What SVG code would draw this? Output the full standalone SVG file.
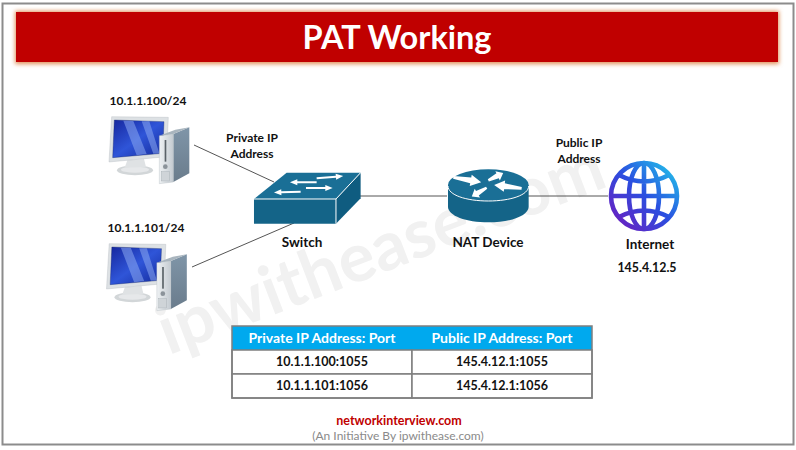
<svg xmlns="http://www.w3.org/2000/svg" width="796" height="450" viewBox="0 0 796 450">
<style>
text{font-family:Lato,"Liberation Sans",sans-serif;font-weight:700;text-anchor:middle;fill:#111}
.lbl{font-size:12px}
.th{font-size:14px;fill:#fff}
.td{font-size:12.5px}
.conn{stroke:#555;stroke-width:1;fill:none}
.cell{fill:#fff;stroke:#7f7f7f;stroke-width:1.5}
.globe{fill:none;stroke:url(#gl);stroke-width:4.6}
</style>
<defs>
<linearGradient id="gl" gradientUnits="userSpaceOnUse" x1="615" y1="225" x2="675" y2="165"><stop offset="0" stop-color="#6a1fc0"/><stop offset=".5" stop-color="#2a4fe0"/><stop offset="1" stop-color="#22c4ea"/></linearGradient>
<linearGradient id="scr" x1="0" y1="0" x2="1" y2="1"><stop offset="0" stop-color="#16279e"/><stop offset=".5" stop-color="#2f55d8"/><stop offset="1" stop-color="#142a9a"/></linearGradient>
<linearGradient id="tw" x1="0" y1="0" x2="1" y2="0"><stop offset="0" stop-color="#eef1f3"/><stop offset="1" stop-color="#c4cbd1"/></linearGradient>
<linearGradient id="twside" x1="0" y1="0" x2="0" y2="1"><stop offset="0" stop-color="#7f95a8"/><stop offset="1" stop-color="#6a7c8c"/></linearGradient>
<filter id="glow" x="-3%" y="-25%" width="106%" height="150%"><feGaussianBlur stdDeviation="2.2"/></filter>
<g id="pc">
<ellipse cx="135" cy="256" rx="54" ry="15" fill="#d2d6d8"/>
<ellipse cx="135" cy="254" rx="42" ry="9" fill="#e6e8ea"/>
<path d="M112 226L162 222L168 246L104 248Z" fill="#dfe2e4"/>
<path d="M65 95L235 97L230 215L57 231Z" fill="#dde1e4" stroke="#aeb4ba"/>
<path d="M73 105L222 110L218 205L68 218Z" fill="url(#scr)" stroke="#10205f"/>
<path d="M100 107L130 108L170 207L140 211Z M155 109L178 109L208 205L190 206Z" fill="#8aa8f0" opacity=".55"/>
<path d="M250 147L298 127V265L250 291Z" fill="url(#twside)"/>
<path d="M208 152L250 147V291L208 296Z" fill="url(#tw)" stroke="#aab2b8"/>
<path d="M208 152L256 134L298 127L250 147Z" fill="#a9b5be"/>
<rect x="224" y="165" width="5" height="65" fill="#5a6268"/>
<circle cx="226" cy="245" r="7" fill="#8b939a"/>
<rect x="214" y="260" width="24" height="28" fill="#cfd4d8" stroke="#9aa2a8"/>
</g>
<path id="ar" d="M0 -3H58V-9L80 0L58 9V3H0Z" fill="#fff"/>
<path id="arw" d="M0 -4L50 -9V-17L80 0L50 17V9L0 4Z" fill="#fff"/>
</defs>
<rect width="796" height="450" fill="#fff"/>
<rect x="2.5" y="3.5" width="791" height="441" fill="none" stroke="#8c8c8c" stroke-width="2"/>
<text x="381" y="272" transform="rotate(-21 381 250)" style="font-size:68px;fill:#f1f1f1">ipwithease.com</text>
<rect x="15" y="11" width="764" height="53" fill="#e0905a" filter="url(#glow)"/>
<rect id="banner" x="16" y="12" width="762" height="50" fill="#c00000"/>
<text x="397" y="49" style="font-size:32.5px;fill:#fff">PAT Working</text>
<g id="connectors">
<path class="conn" d="M194 145L274 182"/>
<path class="conn" d="M192 267L294 223"/>
<path class="conn" d="M353 196H447"/>
<path class="conn" d="M528 196H608"/>
</g>
<g id="pc1"><use href="#pc" transform="translate(90,85) scale(.3333)"/><text class="lbl" x="148" y="105">10.1.1.100/24</text></g>
<g id="pc2"><use href="#pc" transform="translate(87.5,212) scale(.3333)"/><text class="lbl" x="146" y="232">10.1.1.101/24</text></g>
<g id="private-label"><text class="lbl" x="252" y="142">Private IP</text><text class="lbl" x="252" y="158">Address</text></g>
<g id="switch">
<g transform="translate(90,85) scale(.3333)">
<path d="M492 342L590 263H812L738 342Z" fill="#1a6f96"/>
<path d="M492 342H738V416H492Z" fill="#146488"/>
<path d="M738 342L812 263V340L738 416Z" fill="#0f5c80"/>
<path d="M492 342H738L812 263M738 342V416" fill="none" stroke="#fff" stroke-width="3"/>
<use href="#ar" transform="translate(680,280) rotate(-5)"/>
<use href="#ar" transform="translate(680,292) rotate(180)"/>
<use href="#ar" transform="translate(648,309)"/>
<use href="#ar" transform="translate(632,320) rotate(178)"/>
</g>
<text class="lbl" x="302" y="247" style="font-size:13.5px">Switch</text>
</g>
<g id="router">
<g transform="translate(430,125) scale(.3333)">
<path d="M54 180V245C54 272 108 292 175 292S296 272 296 245V180Z" fill="#146488"/>
<ellipse cx="175" cy="180" rx="121" ry="47" fill="#1a6f96"/>
<path d="M54 183C54 210 108 228 175 228S296 210 296 183" fill="none" stroke="#fff" stroke-width="3"/>
<use href="#arw" transform="translate(70,157) rotate(10) scale(1.06,1)"/>
<use href="#arw" transform="translate(175,166) rotate(-26) scale(.62,.9)"/>
<use href="#arw" transform="translate(275,190) rotate(187) scale(1.04,1)"/>
<use href="#arw" transform="translate(170,188) rotate(149) scale(.65,.9)"/>
</g>
<text class="lbl" x="488" y="247" style="font-size:13.5px">NAT Device</text>
</g>
<g id="public-label"><text class="lbl" x="579" y="147">Public IP</text><text class="lbl" x="579" y="163">Address</text></g>
<g id="internet">
<circle class="globe" cx="644" cy="196" r="33"/>
<ellipse class="globe" cx="644" cy="196" rx="15" ry="33"/>
<path class="globe" d="M611 196H677M644 163V229M619 175Q644 188 669 175M619 217Q644 204 669 217"/>
<text class="lbl" x="650" y="249" style="font-size:13.5px">Internet</text>
<text class="lbl" x="647" y="272" style="font-size:12.4px">145.4.12.5</text>
</g>
<g id="table">
<rect x="232" y="326" width="360" height="24" fill="#00a9ee"/>
<rect class="cell" x="232" y="350" width="180" height="24"/><rect class="cell" x="412" y="350" width="180" height="24"/>
<rect class="cell" x="232" y="374" width="180" height="24"/><rect class="cell" x="412" y="374" width="180" height="24"/>
<rect x="232" y="326" width="360" height="72" fill="none" stroke="#7f7f7f" stroke-width="1.5"/>
<text class="th" x="322" y="343">Private IP Address: Port</text><text class="th" x="502" y="343">Public IP Address: Port</text>
<text class="td" x="322" y="366">10.1.1.100:1055</text><text class="td" x="502" y="366">145.4.12.1:1055</text>
<text class="td" x="322" y="390">10.1.1.101:1056</text><text class="td" x="502" y="390">145.4.12.1:1056</text>
</g>
<text x="399" y="425" style="font-size:12.5px;fill:#c00000">networkinterview.com</text>
<text x="398" y="440" style="font-size:12px;font-weight:400;fill:#8a8a8a">(An Initiative By ipwithease.com)</text>
</svg>
